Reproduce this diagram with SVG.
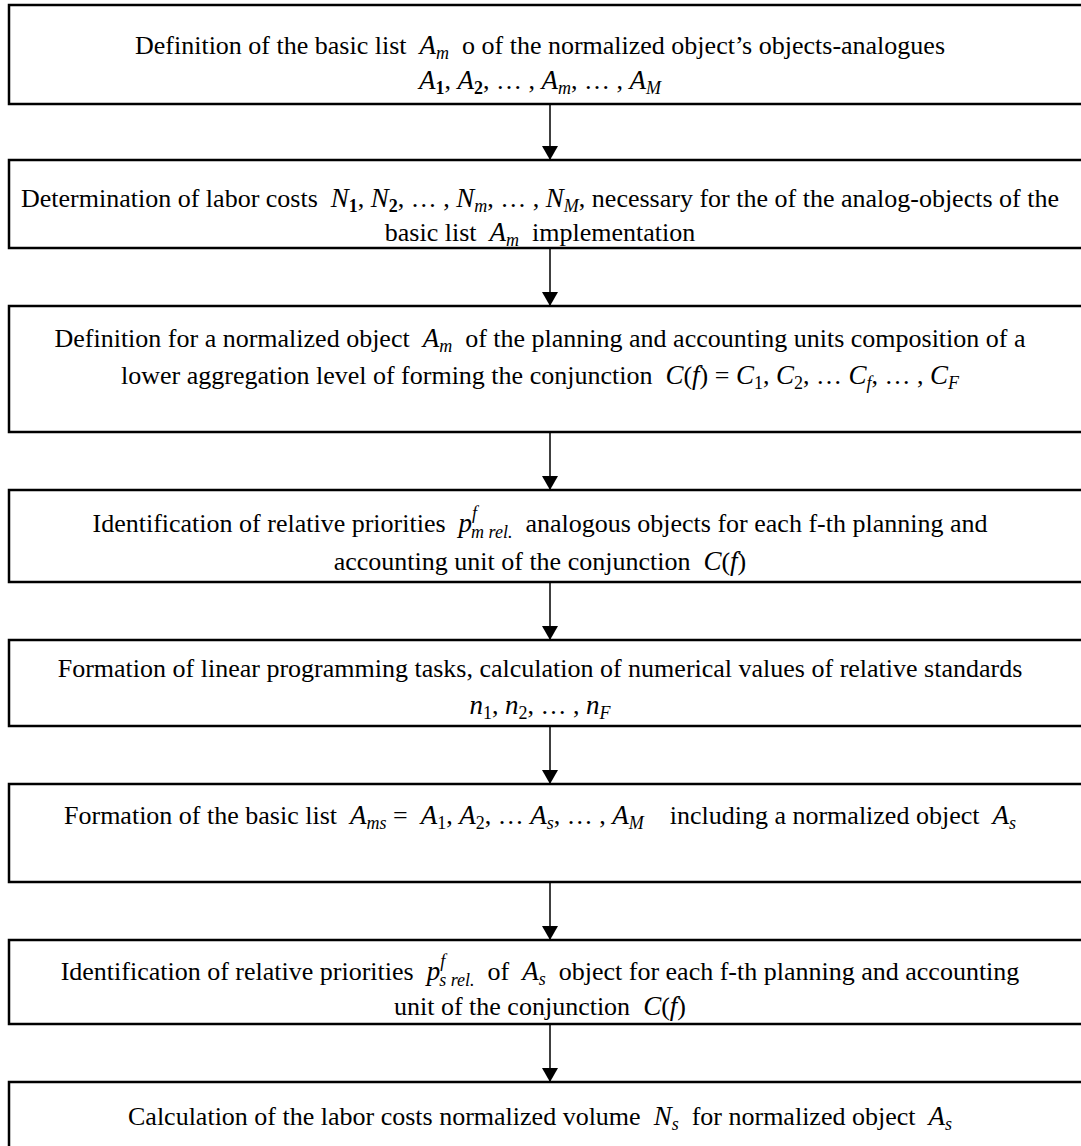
<svg xmlns="http://www.w3.org/2000/svg" width="1081" height="1146" viewBox="0 0 1081 1146">
<style>
.box{fill:#fff;stroke:#000;stroke-width:2.5}
.t{font-family:"Liberation Serif","Times New Roman",serif;font-size:26px;fill:#000;text-anchor:middle;white-space:pre}
.m{font-style:italic;font-family:"Liberation Serif",serif;font-size:27px}
.s{font-size:18px}
.b{font-weight:bold}
.edge{stroke:#000;stroke-width:1.5;fill:none}
</style>
<defs>
<marker id="arr" viewBox="0 0 14 16" refX="14" refY="8" markerWidth="14" markerHeight="16" markerUnits="userSpaceOnUse" orient="auto">
<path d="M0,0 L14,8 L0,16 z" fill="#000"/>
</marker>
</defs>
<rect width="1081" height="1146" fill="#fff"/>
<g id="n1">
<rect class="box" x="9" y="5" width="1082" height="99"/>
<text class="t" x="540" y="54">Definition of the basic list  <tspan class="m">A</tspan><tspan class="m s" baseline-shift="-5">m</tspan>  o of the normalized object’s objects-analogues</text>
<text class="t" x="540" y="89"><tspan class="m">A</tspan><tspan class="s b" baseline-shift="-5">1</tspan>, <tspan class="m">A</tspan><tspan class="s b" baseline-shift="-5">2</tspan>, … , <tspan class="m">A</tspan><tspan class="m s" baseline-shift="-5">m</tspan>, … , <tspan class="m">A</tspan><tspan class="m s" baseline-shift="-5">M</tspan></text>
</g>
<g id="n2">
<rect class="box" x="9" y="160" width="1082" height="88"/>
<text class="t" x="540" y="207">Determination of labor costs  <tspan class="m">N</tspan><tspan class="s b" baseline-shift="-5">1</tspan>, <tspan class="m">N</tspan><tspan class="s b" baseline-shift="-5">2</tspan>, … , <tspan class="m">N</tspan><tspan class="m s" baseline-shift="-5">m</tspan>, … , <tspan class="m">N</tspan><tspan class="m s" baseline-shift="-5">M</tspan>, necessary for the of the analog-objects of the</text>
<text class="t" x="540" y="241">basic list  <tspan class="m">A</tspan><tspan class="m s" baseline-shift="-5">m</tspan>  implementation</text>
</g>
<g id="n3">
<rect class="box" x="9" y="306" width="1082" height="126"/>
<text class="t" x="540" y="347">Definition for a normalized object  <tspan class="m">A</tspan><tspan class="m s" baseline-shift="-5">m</tspan>  of the planning and accounting units composition of a</text>
<text class="t" x="540" y="384">lower aggregation level of forming the conjunction  <tspan class="m">C</tspan>(<tspan class="m">f</tspan>) = <tspan class="m">C</tspan><tspan class="s" baseline-shift="-5">1</tspan>, <tspan class="m">C</tspan><tspan class="s" baseline-shift="-5">2</tspan>, … <tspan class="m">C</tspan><tspan class="m s" baseline-shift="-5">f</tspan>, … , <tspan class="m">C</tspan><tspan class="m s" baseline-shift="-5">F</tspan></text>
</g>
<g id="n4">
<rect class="box" x="9" y="490" width="1082" height="92"/>
<text class="t" x="540" y="532">Identification of relative priorities  <tspan class="m">p</tspan><tspan class="m s" dy="-13">f</tspan><tspan class="m s" dx="-6" dy="19">m rel.</tspan><tspan dy="-6">  analogous objects for each f-th planning and</tspan></text>
<text class="t" x="540" y="570">accounting unit of the conjunction  <tspan class="m">C</tspan>(<tspan class="m">f</tspan>)</text>
</g>
<g id="n5">
<rect class="box" x="9" y="640" width="1082" height="86"/>
<text class="t" x="540" y="677">Formation of linear programming tasks, calculation of numerical values of relative standards</text>
<text class="t" x="540" y="714"><tspan class="m">n</tspan><tspan class="s" baseline-shift="-5">1</tspan>, <tspan class="m">n</tspan><tspan class="s" baseline-shift="-5">2</tspan>, … , <tspan class="m">n</tspan><tspan class="m s" baseline-shift="-5">F</tspan></text>
</g>
<g id="n6">
<rect class="box" x="9" y="784" width="1082" height="98"/>
<text class="t" x="540" y="824">Formation of the basic list  <tspan class="m">A</tspan><tspan class="m s" baseline-shift="-5">ms</tspan> =  <tspan class="m">A</tspan><tspan class="s" baseline-shift="-5">1</tspan>, <tspan class="m">A</tspan><tspan class="s" baseline-shift="-5">2</tspan>, … <tspan class="m">A</tspan><tspan class="m s" baseline-shift="-5">s</tspan>, … , <tspan class="m">A</tspan><tspan class="m s" baseline-shift="-5">M</tspan>    including a normalized object  <tspan class="m">A</tspan><tspan class="m s" baseline-shift="-5">s</tspan></text>
</g>
<g id="n7">
<rect class="box" x="9" y="940" width="1082" height="84"/>
<text class="t" x="540" y="980">Identification of relative priorities  <tspan class="m">p</tspan><tspan class="m s" dy="-13">f</tspan><tspan class="m s" dx="-6" dy="19">s rel.</tspan><tspan dy="-6">  of  </tspan><tspan class="m">A</tspan><tspan class="m s" baseline-shift="-5">s</tspan>  object for each f-th planning and accounting</text>
<text class="t" x="540" y="1015">unit of the conjunction  <tspan class="m">C</tspan>(<tspan class="m">f</tspan>)</text>
</g>
<g id="n8">
<rect class="box" x="9" y="1082" width="1082" height="80"/>
<text class="t" x="540" y="1125">Calculation of the labor costs normalized volume  <tspan class="m">N</tspan><tspan class="m s" baseline-shift="-5">s</tspan>  for normalized object  <tspan class="m">A</tspan><tspan class="m s" baseline-shift="-5">s</tspan></text>
</g>
<g id="connectors">
<line class="edge" x1="550" y1="104" x2="550" y2="160" marker-end="url(#arr)"/>
<line class="edge" x1="550" y1="248" x2="550" y2="306" marker-end="url(#arr)"/>
<line class="edge" x1="550" y1="432" x2="550" y2="490" marker-end="url(#arr)"/>
<line class="edge" x1="550" y1="582" x2="550" y2="640" marker-end="url(#arr)"/>
<line class="edge" x1="550" y1="726" x2="550" y2="784" marker-end="url(#arr)"/>
<line class="edge" x1="550" y1="882" x2="550" y2="940" marker-end="url(#arr)"/>
<line class="edge" x1="550" y1="1024" x2="550" y2="1082" marker-end="url(#arr)"/>
</g>
</svg>
